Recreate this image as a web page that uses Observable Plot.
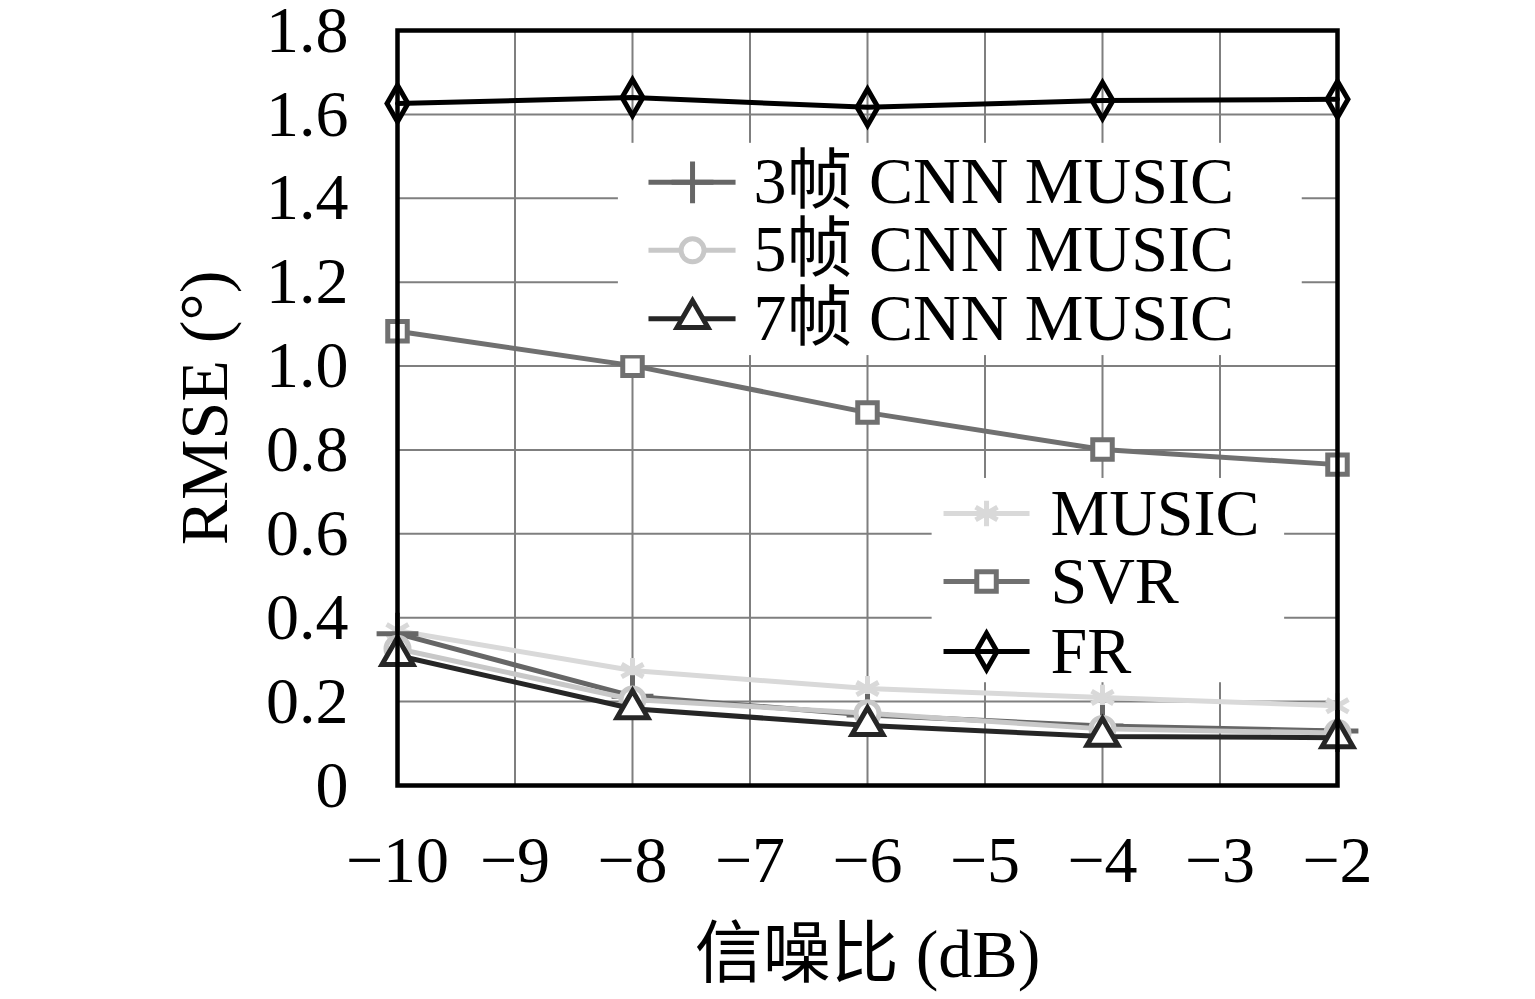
<!DOCTYPE html>
<html><head><meta charset="utf-8">
<script src="https://cdn.jsdelivr.net/npm/d3@7"></script>
<script src="https://cdn.jsdelivr.net/npm/@observablehq/plot@0.6"></script>
<style>body{margin:0;background:#fff}</style>
</head><body><div id="chart"></div>
<script>
// ---- data ----
const snr = [-10, -8, -6, -4, -2];
const seriesNames = ["MUSIC", "SVR", "FR", "3帧 CNN MUSIC", "5帧 CNN MUSIC", "7帧 CNN MUSIC"];
const music = [0.369, 0.274, 0.231, 0.210, 0.190];
const svr   = [1.083, 1.001, 0.889, 0.801, 0.765];
const fr    = [1.626, 1.640, 1.617, 1.633, 1.636];
const cnn3  = [0.362, 0.213, 0.168, 0.142, 0.130];
const cnn5  = [0.326, 0.205, 0.172, 0.135, 0.125];
const cnn7  = [0.310, 0.183, 0.143, 0.117, 0.114];
const xTicks = [-10, -9, -8, -7, -6, -5, -4, -3, -2];
const xTickLabels = ["−10", "−9", "−8", "−7", "−6", "−5", "−4", "−3", "−2"];
const yTicks = [0, 0.2, 0.4, 0.6, 0.8, 1.0, 1.2, 1.4, 1.6, 1.8];
const yTickLabels = ["0", "0.2", "0.4", "0.6", "0.8", "1.0", "1.2", "1.4", "1.6", "1.8"];
const legend1Names = ["3帧 CNN MUSIC", "5帧 CNN MUSIC", "7帧 CNN MUSIC"];
const legend2Names = ["MUSIC", "SVR", "FR"];
const xLabel = "信噪比 (dB)";
const yLabel = "RMSE (°)";

// ---- styles ----
const FONT = '"Liberation Serif","Noto Sans CJK SC",serif';
const valuesByName = {
  "MUSIC": music, "SVR": svr, "FR": fr,
  "3帧 CNN MUSIC": cnn3, "5帧 CNN MUSIC": cnn5, "7帧 CNN MUSIC": cnn7
};
const styles = {
  "MUSIC":         {color: "#d9d9d9", symbol: "asterisk", r: 12,   fill: "none"},
  "SVR":           {color: "#707070", symbol: "square",   r: 11,   fill: "white"},
  "FR":            {color: "#000000", symbol: "diamond",  r: 11,   fill: "none"},
  "3帧 CNN MUSIC": {color: "#666666", symbol: "plus",     r: 13.5, fill: "none"},
  "5帧 CNN MUSIC": {color: "#c8c8c8", symbol: "circle",   r: 11.5, fill: "white"},
  "7帧 CNN MUSIC": {color: "#262626", symbol: "triangle", r: 11.5, fill: "white"}
};
const LW = 5;

// legend layout (in data units)
const legendBoxes = [
  {x1: -8.12, x2: -2.30, y1: 1.025, y2: 1.531},
  {x1: -5.45, x2: -2.45, y1: 0.245, y2: 0.732}
];
const legendLayouts = [
  {names: legend1Names, lx1: -7.864, lx2: -7.123, mx: -7.489, tx: -6.97, ys: [1.438, 1.276, 1.113]},
  {names: legend2Names, lx1: -5.353, lx2: -4.621, mx: -4.987, tx: -4.443, ys: [0.6485, 0.4864, 0.3195]}
];

const rows = seriesNames.flatMap(name => snr.map((x, i) => ({name, snr: x, value: valuesByName[name][i]})));

const marks = [
  Plot.gridX({ticks: xTicks, stroke: "#7f7f7f", strokeOpacity: 1, strokeWidth: 2}),
  Plot.gridY({ticks: yTicks, stroke: "#7f7f7f", strokeOpacity: 1, strokeWidth: 2})
];
for (const name of seriesNames) {
  const s = styles[name];
  const data = rows.filter(d => d.name === name);
  marks.push(Plot.line(data, {x: "snr", y: "value", stroke: s.color, strokeWidth: LW}));
  marks.push(Plot.dot(data, {x: "snr", y: "value", symbol: s.symbol, r: s.r, stroke: s.color, fill: s.fill, strokeWidth: LW}));
}
marks.push(Plot.rect(legendBoxes, {x1: "x1", x2: "x2", y1: "y1", y2: "y2", fill: "white"}));
for (const L of legendLayouts) {
  L.names.forEach((name, i) => {
    const s = styles[name];
    const y = L.ys[i];
    marks.push(Plot.link([{y}], {x1: L.lx1, x2: L.lx2, y1: "y", y2: "y", stroke: s.color, strokeWidth: LW}));
    marks.push(Plot.dot([{y}], {x: L.mx, y: "y", symbol: s.symbol, r: s.r, stroke: s.color, fill: s.fill, strokeWidth: LW}));
    marks.push(Plot.text([{y, name}], {x: L.tx, y: "y", text: "name", textAnchor: "start", lineAnchor: "middle", fontSize: 66, fill: "black", style: "word-spacing:8px"}));
  });
}
marks.push(Plot.frame({stroke: "#000", strokeWidth: 4.5}));
marks.push(Plot.axisX({ticks: xTicks, tickSize: 0, tickPadding: 50, fontSize: 66, tickFormat: d => xTickLabels[xTicks.indexOf(d)], label: null}));
marks.push(Plot.axisY({ticks: yTicks, tickSize: 0, tickPadding: 49, fontSize: 66, tickFormat: d => yTickLabels[yTicks.findIndex(t => Math.abs(t - d) < 1e-9)], label: null}));
marks.push(Plot.text([xLabel], {frameAnchor: "bottom", dy: 170, text: d => d, fontSize: 68, fill: "black", textAnchor: "middle", lineAnchor: "middle"}));
marks.push(Plot.text([yLabel], {frameAnchor: "left", dx: -192, rotate: -90, text: d => d, fontSize: 68, fill: "black", textAnchor: "middle", lineAnchor: "middle"}));

const chart = Plot.plot({
  width: 1535, height: 999,
  marginLeft: 397, marginRight: 198, marginTop: 30, marginBottom: 214,
  x: {domain: [-10, -2]},
  y: {domain: [0, 1.8]},
  style: {fontFamily: FONT, background: "white", color: "black"},
  marks
});
document.getElementById("chart").append(chart);
</script>
</body></html>
